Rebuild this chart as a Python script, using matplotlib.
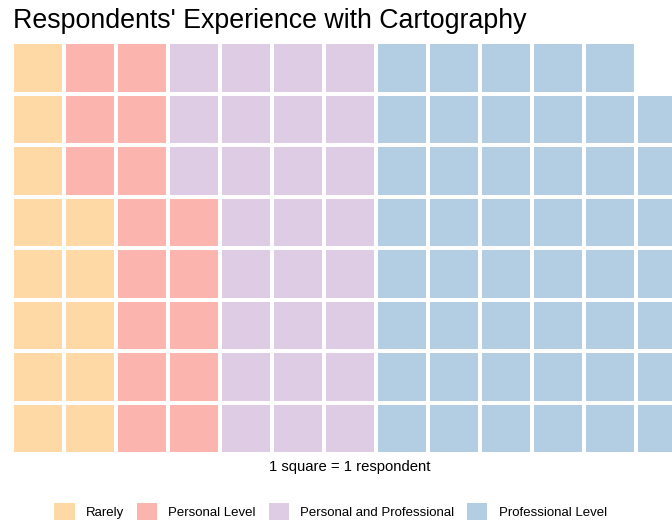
import numpy as np
import matplotlib.pyplot as plt
from matplotlib.patches import Patch

plt.rcParams['font.family'] = ['Liberation Sans', 'DejaVu Sans']

# Datos
categories = ['Rarely', 'Personal Level', 'Personal and Professional', 'Professional Level']
counts = [13, 16, 27, 47]
colors = ['#FED9A6', '#FBB4AE', '#DECBE4', '#B3CDE3']
n_rows = 8

W, H = 672, 522
fig = plt.figure(figsize=(W / 100, H / 100), dpi=100)

# panel: column pitch 52 px, row pitch 51.5 px, cut at the right edge
left_px, top_px, bottom_px = 12, 42, 454
ax = fig.add_axes([left_px / W, (H - bottom_px) / H, (W - left_px) / W, (bottom_px - top_px) / H])

# fill column by column, from the bottom up
cat_idx = np.repeat(np.arange(len(categories)), counts)
k = np.arange(len(cat_idx))
cols = k // n_rows
rows = k % n_rows

for i, cat in enumerate(categories):
    m = cat_idx == i
    ax.bar(cols[m], 1, bottom=rows[m], width=1, align='edge',
           color=colors[i], edgecolor='white', linewidth=2.9, label=cat)

ax.set_xlim(0, (W - left_px) / 52)
ax.set_ylim(0, n_rows)
ax.axis('off')

fig.text(13 / W, (H - 28) / H, "Respondents' Experience with Cartography",
         fontsize=19.3, ha='left', va='baseline')

# caption centred under the (full) 13-column panel
ax.text(6.5, -0.33, '1 square = 1 respondent', fontsize=10.7,
        ha='center', va='baseline', transform=ax.transData, clip_on=False)

handles = [Patch(facecolor=c, edgecolor='none') for c in colors]
fig.legend(handles, categories, loc='center', ncol=4,
           bbox_to_anchor=(330.5 / W, 10.5 / H), frameon=False, fontsize=9.5,
           handlelength=1.55, handleheight=1.55, handletextpad=0.85,
           columnspacing=0.95, borderpad=0, borderaxespad=0)

fig.savefig('out.png', dpi=100)
